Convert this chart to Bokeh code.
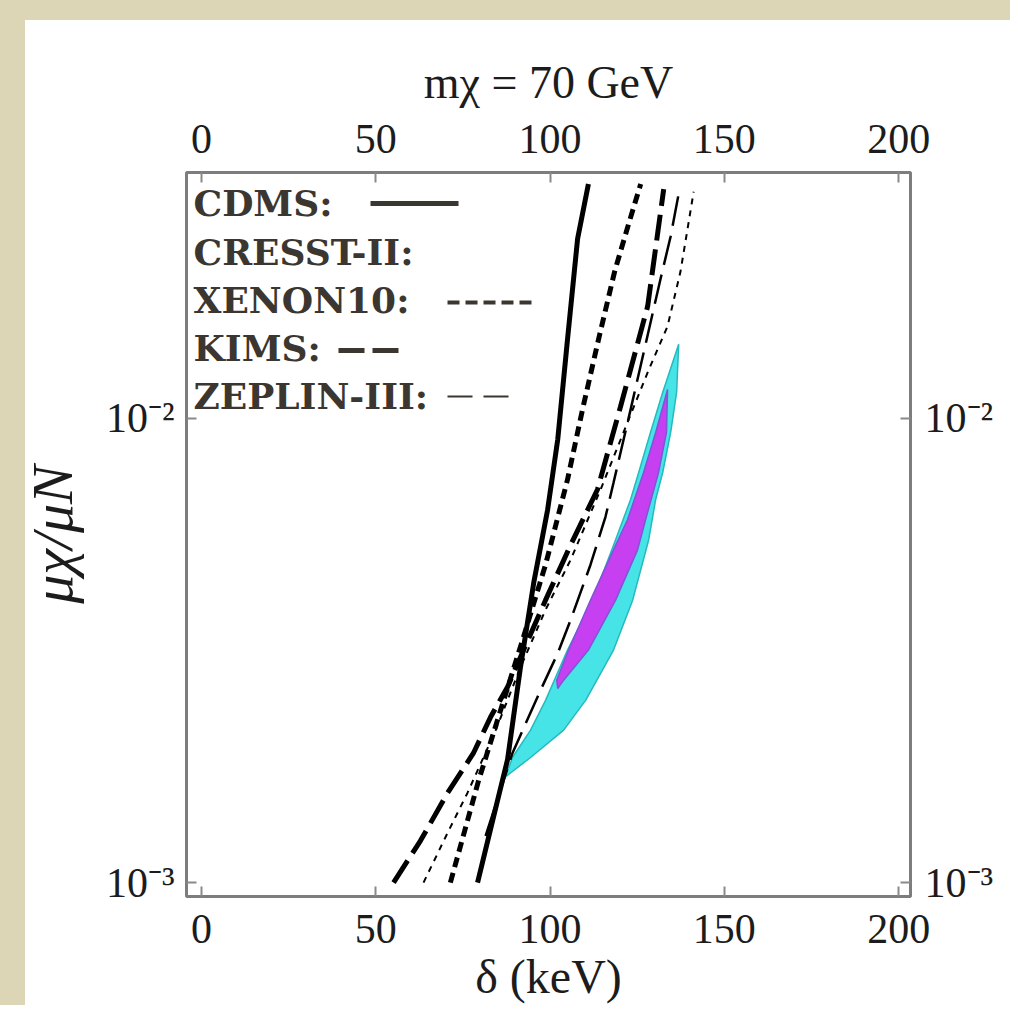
import numpy as np
from bokeh.plotting import figure
from bokeh.models import Range1d, LinearAxis, LogAxis, FixedTicker, Label, CustomJSTickFormatter
from bokeh.embed import file_html
from bokeh.resources import INLINE

# ---------------- data (delta in keV, mu_chi/mu_N) ----------------
delta_ticks = [0, 50, 100, 150, 200]
mu_ticks = [1e-3, 1e-2]
mu_tick_labels = ["10⁻³", "10⁻²"]

cdms_delta = [79.2, 84.9, 87.8, 91.5, 95.3, 99.3, 102.2, 105.0, 107.9, 111.0]
cdms_mu = [0.00100, 0.00150, 0.00184, 0.00291, 0.00442, 0.00636, 0.00901, 0.0148, 0.0244, 0.0320]

xenon_delta = [71.4, 79.5, 85.8, 92.1, 98.7, 105.0, 109.3, 113.9, 118.5, 122.5, 126.0]
xenon_mu = [0.00100, 0.00166, 0.00235, 0.00333, 0.00484, 0.00738, 0.01045, 0.0148, 0.0207, 0.0262, 0.0320]

kims_delta = [55.1, 62.8, 70.6, 78.0, 82.9, 87.8, 91.5, 98.7, 105.9, 113.6, 120.2, 128.0, 132.6]
kims_mu = [0.00100, 0.00123, 0.00156, 0.00190, 0.00227, 0.00264, 0.00306, 0.00406, 0.00534, 0.00703, 0.0106, 0.01745, 0.0312]

cresst_delta = [63.7, 70.6, 76.3, 84.4, 91.5, 98.7, 105.9, 114.5, 122.2, 128.0, 133.7, 137.4, 141.2]
cresst_mu = [0.00100, 0.00128, 0.00156, 0.00213, 0.00291, 0.00387, 0.00496, 0.00703, 0.00980, 0.01257, 0.0158, 0.0207, 0.0308]

zeplin_delta = [81.5, 89.2, 97.3, 102.2, 105.9, 111.6, 115.9, 118.2, 123.1, 127.4, 131.7, 134.6, 136.9]
zeplin_mu = [0.00126, 0.00190, 0.00260, 0.00312, 0.00368, 0.00484, 0.00614, 0.00727, 0.01045, 0.01445, 0.0200, 0.0247, 0.0305]

cyan_left_delta = [87.2, 89.2, 94.4, 98.7, 105.0, 112.2, 118.8, 123.1, 125.4, 128.8, 132.3, 136.9]
cyan_left_mu = [0.00169, 0.00186, 0.00213, 0.00247, 0.00317, 0.00406, 0.00548, 0.00669, 0.00764, 0.00933, 0.01138, 0.01445]
cyan_right_delta = [136.3, 134.6, 132.3, 130.3, 128.3, 123.7, 118.2, 110.2, 103.9, 94.4]
cyan_right_mu = [0.01138, 0.00933, 0.00764, 0.00669, 0.00548, 0.00406, 0.00317, 0.00247, 0.00213, 0.00186]

magenta_left_delta = [102.2, 101.9, 105.3, 111.6, 118.2, 122.2, 126.8, 130.3, 133.7]
magenta_left_mu = [0.00262, 0.00273, 0.00317, 0.00406, 0.00521, 0.00605, 0.00764, 0.00933, 0.01155]
magenta_right_delta = [133.4, 131.1, 127.4, 125.1, 118.8, 111.0, 103.9]
magenta_right_mu = [0.00933, 0.00764, 0.00605, 0.00521, 0.00406, 0.00317, 0.00273]

legend_names = ["CDMS:", "CRESST-II:", "XENON10:", "KIMS:", "ZEPLIN-III:"]
title_text = "mχ = 70 GeV"
x_label = "δ (keV)"
y_label = "μχ/μN"

# ---------------- layout constants ----------------
X0, X1 = -4.3, 203.4
L0, L1 = -3.03, -1.47
FL, FR, FT, FB = 186, 910, 172, 896   # frame edges (canvas px)
W, H = 1010, 1005
BEIGE = "#ddd6b6"
INK = "#3b3630"
SERIF = "Liberation Serif"


def px2x(px):
    return X0 + (px - FL) / (FR - FL) * (X1 - X0)


def py2y(py):
    return 10 ** (L0 + (FB - py) / (FB - FT) * (L1 - L0))


p = figure(width=W, height=H, x_range=Range1d(X0, X1), y_range=Range1d(10 ** L0, 10 ** L1),
           y_axis_type="log", output_backend="svg", toolbar_location=None,
           min_border_left=FL, min_border_right=W - FR,
           min_border_top=FT, min_border_bottom=H - FB)
p.grid.visible = False
p.background_fill_color = "white"
p.border_fill_color = "white"
p.border_fill_alpha = 0.0
p.outline_line_color = "#7d7d7d"
p.outline_line_width = 3
# slide look: beige strips on the left and top, white panel elsewhere
p.styles = {"background-color": "white",
            "box-shadow": f"inset 25px 20px 0 0 {BEIGE}"}

top_axis = LinearAxis()
p.add_layout(top_axis, "above")
right_axis = LogAxis()
p.add_layout(right_axis, "right")
bottom_axis = p.below[0]
left_axis = p.left[0]

for ax in [bottom_axis, top_axis]:
    ax.ticker = FixedTicker(ticks=delta_ticks, minor_ticks=[])

mu_fmt = CustomJSTickFormatter(args=dict(mt=mu_ticks, ml=mu_tick_labels), code="""
    let best = 0;
    const lt = Math.log10(tick);
    for (let i = 0; i < mt.length; i++) {
        if (Math.abs(lt - Math.log10(mt[i])) < Math.abs(lt - Math.log10(mt[best]))) { best = i; }
    }
    return ml[best];
""")
for ax in [left_axis, right_axis]:
    ax.ticker = FixedTicker(ticks=mu_ticks, minor_ticks=[])
    ax.formatter = mu_fmt
    ax.minor_tick_line_color = None

for ax in [bottom_axis, top_axis, left_axis, right_axis]:
    ax.major_tick_in = 10
    ax.major_tick_out = 0
    ax.major_tick_line_color = "#8a8a8a"
    ax.major_tick_line_width = 2
    ax.axis_line_color = None
    ax.major_label_text_font = SERIF
    ax.major_label_text_font_size = "42px"
    ax.major_label_text_color = "#1c1c1c"
    ax.axis_label_text_font = SERIF
    ax.axis_label_text_color = "#1c1c1c"

bottom_axis.major_label_standoff = 18
top_axis.major_label_standoff = 20
left_axis.major_label_standoff = 12
right_axis.major_label_standoff = 14

top_axis.axis_label = title_text
top_axis.axis_label_text_font_size = "46px"
top_axis.axis_label_text_font_style = "normal"
top_axis.axis_label_standoff = 14

bottom_axis.axis_label = x_label
bottom_axis.axis_label_text_font_size = "48px"
bottom_axis.axis_label_text_font_style = "normal"
bottom_axis.axis_label_standoff = 4

left_axis.axis_label = y_label
left_axis.axis_label_text_font_size = "58px"
left_axis.axis_label_text_font_style = "italic"
left_axis.axis_label_standoff = 18

# ---------------- regions ----------------
p.patch(cyan_left_delta + cyan_right_delta, cyan_left_mu + cyan_right_mu,
        fill_color="#46e4e6", line_color="#25b9c0", line_width=1.5)
p.patch(magenta_left_delta + magenta_right_delta, magenta_left_mu + magenta_right_mu,
        fill_color="#c63ff0", line_color="#7d56d6", line_width=1.5)

# ---------------- exclusion curves ----------------
p.line(cresst_delta, cresst_mu, line_color="black", line_width=2, line_dash="6 6")
p.line(zeplin_delta, zeplin_mu, line_color="black", line_width=2.5, line_dash="30 10")
p.line(kims_delta, kims_mu, line_color="black", line_width=5, line_dash="26 9")
p.line(xenon_delta, xenon_mu, line_color="black", line_width=5, line_dash="10 6")
p.line(cdms_delta, cdms_mu, line_color="black", line_width=5)

# ---------------- legend block (inside the frame) ----------------
leg_font = "DejaVu Serif"
base = [202, 251, 299, 347, 395]
for name, b in zip(legend_names, base):
    p.add_layout(Label(x=193, y=b, x_units="canvas", y_units="canvas", text=name,
                       text_font=leg_font, text_font_size="36px", text_font_style="bold",
                       text_baseline="alphabetic", text_color=INK))

p.line([px2x(370), px2x(458)], [py2y(203)] * 2, line_color=INK, line_width=5)
p.line([px2x(447), px2x(537)], [py2y(302)] * 2, line_color=INK, line_width=4, line_dash="12 6")
p.line([px2x(338), px2x(398)], [py2y(350)] * 2, line_color=INK, line_width=5, line_dash="26 8")
p.line([px2x(447), px2x(508)], [py2y(396)] * 2, line_color=INK, line_width=2, line_dash="25 11")

open("out.html", "w").write(file_html(p, INLINE))
